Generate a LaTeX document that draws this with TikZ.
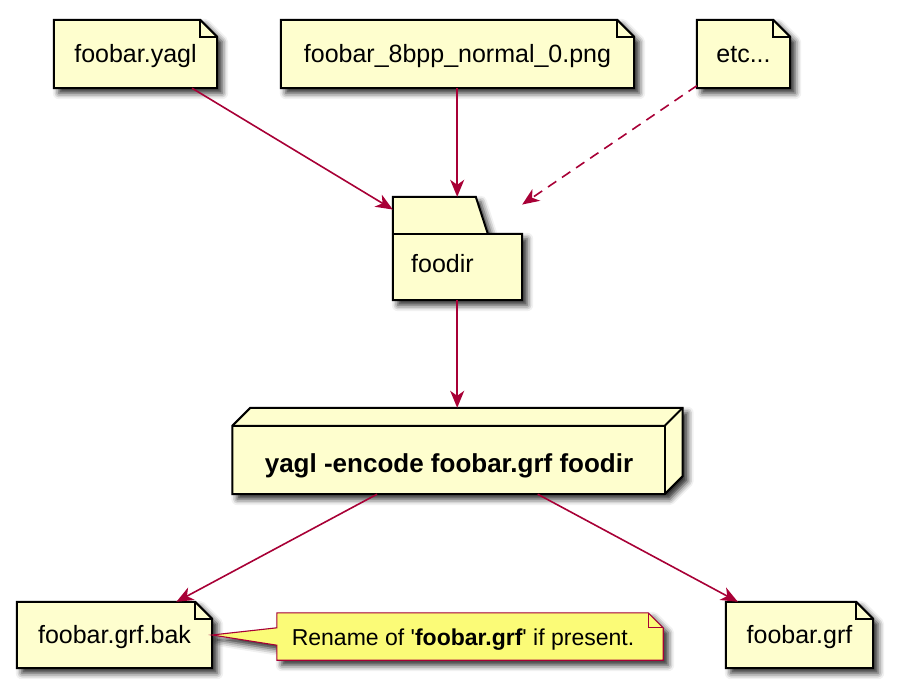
\documentclass[tikz,border=0pt]{standalone}
\usepackage{fontspec}
\setmainfont{Liberation Sans}
\usetikzlibrary{arrows.meta,shadows.blur}
\definecolor{nodefill}{HTML}{FEFECE}
\definecolor{arrowred}{HTML}{A80036}
\definecolor{notey}{HTML}{FBFB77}
\pgfdeclarelayer{bg}
\pgfsetlayers{bg,main}
\tikzset{
  shade/.style={blur shadow={shadow xshift=5pt, shadow yshift=-5pt, shadow blur radius=6pt, shadow opacity=85}},
  elem/.style={fill=nodefill, draw=black, line width=2pt, line join=miter, shade},
  foldline/.style={draw=black, line width=2pt},
  yelem/.style={fill=notey, draw=arrowred, line width=1.1pt, line join=miter, shade},
  yfold/.style={draw=arrowred, line width=1.1pt},
  holder/.style={rectangle, inner sep=0pt, text height=18pt, text depth=2pt, font=\fontsize{25}{30}\selectfont},
  boldtext/.style={holder, font=\fontsize{26}{31}\selectfont\bfseries},
  notetext/.style={holder, text height=16.5pt, font=\fontsize{23}{28}\selectfont},
  conn/.style={draw=arrowred, line width=1.6pt, -{Stealth[length=17pt,width=14pt,inset=5pt]}},
  dashconn/.style={conn, dash pattern=on 10pt off 7pt},
}
\newcommand\dogear[1]{%
  \path[elem] (#1.north west) -- ([xshift=-17pt]#1.north east) -- ([yshift=-17pt]#1.north east) -- (#1.south east) -- (#1.south west) -- cycle;
  \draw[foldline] ([xshift=-17pt]#1.north east) |- ([yshift=-17pt]#1.north east);}
\begin{document}
\begin{tikzpicture}[x=1pt,y=-1pt]
\useasboundingbox (0,0) rectangle (900,688);
% element nodes
\node[holder, minimum width=163pt, minimum height=68pt] (yagl) at (135.5,54) {foobar.yagl};
\node[holder, minimum width=353pt, minimum height=68pt] (png) at (457.5,54) {foobar\_8bpp\_normal\_0.png};
\node[holder, minimum width=93pt, minimum height=68pt] (etc) at (743.5,54) {etc...};
\node[holder, minimum width=129pt, minimum height=103pt] (foodir) at (457.5,248.5) {};
\node[holder, anchor=base west] (foodirlabel) at (411,272) {foodir};
\node[holder, minimum width=450pt, minimum height=86pt] (cmd) at (457.5,451) {};
\node[boldtext] (cmdlabel) at (449,464) {yagl -encode foobar.grf foodir};
\node[holder, minimum width=195pt, minimum height=66pt] (bak) at (114.5,635) {foobar.grf.bak};
\node[holder, minimum width=147pt, minimum height=66pt] (grf) at (799.5,635) {foobar.grf};
\node[holder, minimum width=386pt, minimum height=47pt] (rename) at (470,636.5) {};
\node[notetext] (renamelabel) at (463,638.5) {Rename of \textquotesingle\textbf{foobar.grf}\textquotesingle{} if present.};
\coordinate (pngout) at ([xshift=-0.3pt]png.south);
\coordinate (foodirin) at ([xshift=-0.3pt]foodir.north);
\coordinate (foodirout) at ([xshift=-0.3pt]foodir.south);
\coordinate (cmdin) at ([xshift=-0.3pt]cmd.north);
% shapes on the background layer
\begin{pgfonlayer}{bg}
  \dogear{yagl}
  \dogear{png}
  \dogear{etc}
  \dogear{bak}
  \dogear{grf}
  % folder
  \path[elem] (foodir.north west) -- ([xshift=83pt]foodir.north west) -- ([xshift=95pt,yshift=-37pt]foodir.north west) -- ([yshift=-37pt]foodir.north east) -- (foodir.south east) -- (foodir.south west) -- cycle;
  \draw[foldline] ([yshift=-37pt]foodir.north west) -- ([xshift=95pt,yshift=-37pt]foodir.north west);
  % 3D box
  \path[elem] ([yshift=-18pt]cmd.north west) -- ([xshift=18pt]cmd.north west) -- (cmd.north east) -- ([yshift=18pt]cmd.south east) -- ([xshift=-18pt]cmd.south east) -- (cmd.south west) -- cycle;
  \draw[foldline] ([yshift=-18pt]cmd.north west) -- ([xshift=-18pt,yshift=-18pt]cmd.north east) -- (cmd.north east);
  \draw[foldline] ([xshift=-18pt,yshift=-18pt]cmd.north east) -- ([xshift=-18pt]cmd.south east);
  % yellow note with pointer
  \path[yelem] (rename.north west) -- ([xshift=-15pt]rename.north east) -- ([yshift=-15pt]rename.north east) -- (rename.south east) -- (rename.south west) -- ([yshift=15pt]rename.south west) -- (bak.east) -- ([yshift=-15pt]rename.north west) -- cycle;
  \draw[yfold] ([xshift=-15pt]rename.north east) |- ([yshift=-15pt]rename.north east);
\end{pgfonlayer}
% connectors
\draw[conn] (yagl) -- (foodir);
\draw[conn] (pngout) -- (foodirin);
\draw[dashconn] (etc) -- (foodir);
\draw[conn] (foodirout) -- (cmdin);
\draw[conn] (cmd) -- (bak);
\draw[conn] (cmd) -- (grf);
\end{tikzpicture}
\end{document}
